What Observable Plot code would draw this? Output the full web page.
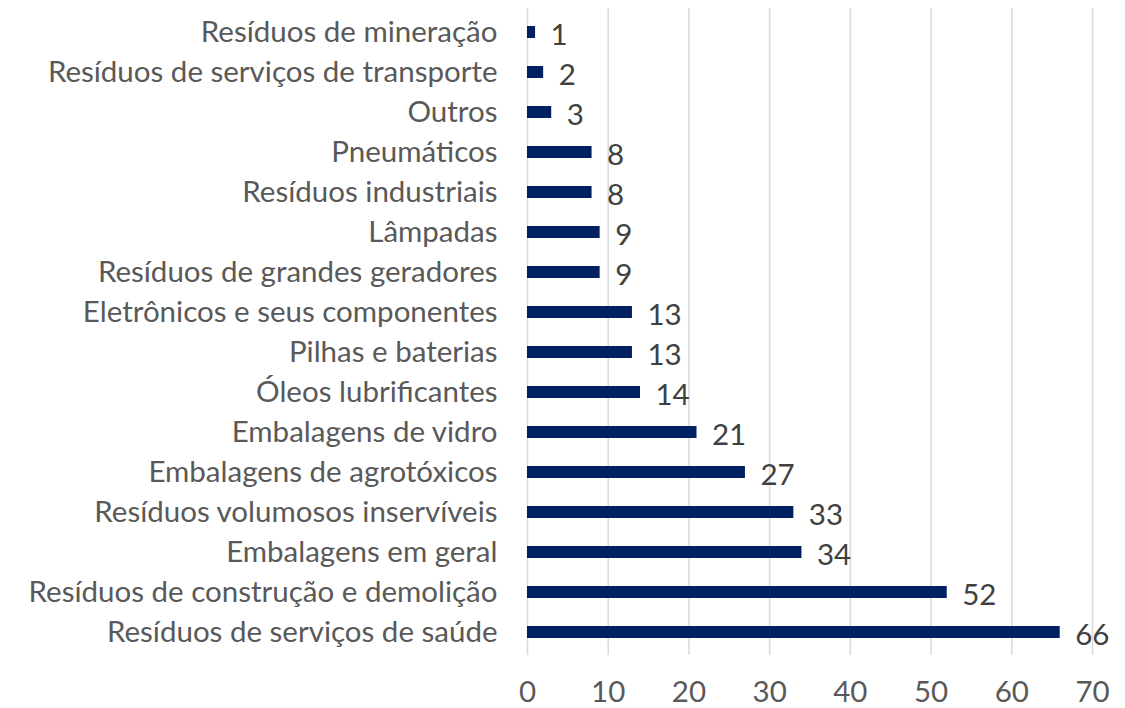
<!DOCTYPE html>
<html><head><meta charset="utf-8">
<script src="https://cdn.jsdelivr.net/npm/d3@7"></script>
<script src="https://cdn.jsdelivr.net/npm/@observablehq/plot@0.6"></script>
<style>body{margin:0;background:#fff}</style>
</head><body><div id="chart"></div>
<script>
const categories = [
  "Resíduos de mineração",
  "Resíduos de serviços de transporte",
  "Outros",
  "Pneumáticos",
  "Resíduos industriais",
  "Lâmpadas",
  "Resíduos de grandes geradores",
  "Eletrônicos e seus componentes",
  "Pilhas e baterias",
  "Óleos lubrificantes",
  "Embalagens de vidro",
  "Embalagens de agrotóxicos",
  "Resíduos volumosos inservíveis",
  "Embalagens em geral",
  "Resíduos de construção e demolição",
  "Resíduos de serviços de saúde"
];
const values = [1, 2, 3, 8, 8, 9, 9, 13, 13, 14, 21, 27, 33, 34, 52, 66];
const xTicks = [0, 10, 20, 30, 40, 50, 60, 70];

const data = categories.map((c, i) => ({category: c, value: values[i]}));
const font = "Lato, 'Open Sans', sans-serif";
const fs = 29.5;

const chart = Plot.plot({
  width: 1125,
  height: 708,
  marginLeft: 527,
  marginRight: 33,
  marginTop: 8,
  marginBottom: 53,
  style: {fontFamily: font, background: "#fff"},
  x: {domain: [0, 70], label: null},
  y: {domain: categories, paddingInner: 0.7, paddingOuter: 0.35, label: null},
  marks: [
    Plot.gridX(xTicks, {stroke: "#d9d9d9", strokeOpacity: 1, strokeWidth: 1.5}),
    Plot.barX(data, {x: "value", y: "category", fill: "#002060"}),
    Plot.text(data, {x: "value", y: "category", text: d => String(d.value), dx: 15, dy: 3, textAnchor: "start", fill: "#404040", fontSize: fs}),
    Plot.axisY({tickSize: 0, tickPadding: 30, fontSize: fs, fill: "#595959", label: null}),
    Plot.axisX({ticks: xTicks, tickSize: 0, tickPadding: 26, fontSize: fs, fill: "#595959", label: null})
  ]
});
document.getElementById("chart").append(chart);
</script>
</body></html>
